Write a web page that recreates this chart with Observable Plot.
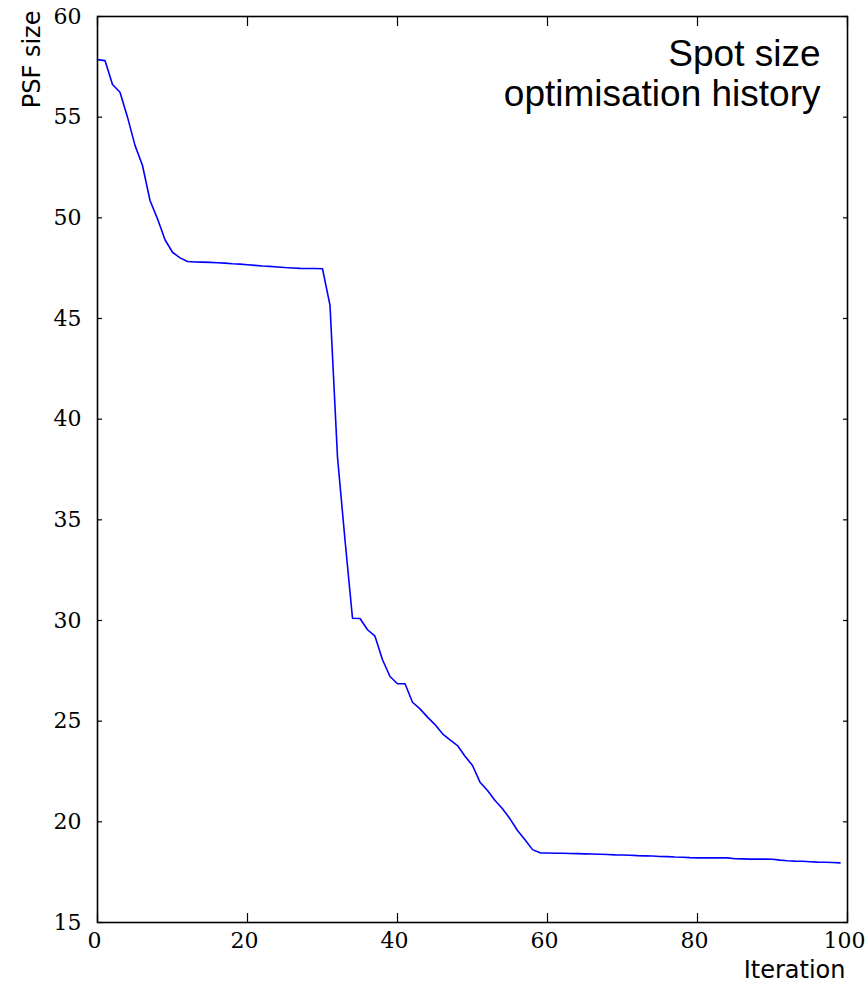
<!DOCTYPE html>
<html>
<head>
<meta charset="utf-8">
<script src="https://cdn.jsdelivr.net/npm/d3@7"></script>
<script src="https://cdn.jsdelivr.net/npm/@observablehq/plot@0.6"></script>
<style>
  html, body { margin: 0; padding: 0; background: #fff; }
  #chart svg { display: block; }
</style>
</head>
<body>
<div id="chart"></div>
<script>
// Iteration index 0..99 and PSF size
const iterations = d3.range(0, 100);
const psfSize = [
  57.86, 57.81, 56.62, 56.24, 55.0, 53.6, 52.6, 50.86, 49.95, 48.91,
  48.29, 48.01, 47.83, 47.81, 47.80, 47.79, 47.77, 47.75, 47.72, 47.70,
  47.67, 47.64, 47.61, 47.59, 47.56, 47.53, 47.51, 47.49, 47.48, 47.48,
  47.47, 45.65, 38.11, 34.0, 30.11, 30.10, 29.54, 29.22, 28.05, 27.22,
  26.86, 26.86, 25.94, 25.61, 25.2, 24.83, 24.37, 24.07, 23.79, 23.26,
  22.8, 21.97, 21.56, 21.06, 20.65, 20.15, 19.57, 19.11, 18.62, 18.46,
  18.45, 18.44, 18.44, 18.43, 18.42, 18.41, 18.40, 18.39, 18.38, 18.36,
  18.35, 18.34, 18.32, 18.31, 18.30, 18.28, 18.27, 18.25, 18.24, 18.22,
  18.21, 18.21, 18.21, 18.21, 18.21, 18.17, 18.16, 18.15, 18.15, 18.15,
  18.14, 18.10, 18.07, 18.05, 18.04, 18.02, 18.00, 17.99, 17.98, 17.96
];
const xTicks = [0, 20, 40, 60, 80, 100];
const yTicks = [15, 20, 25, 30, 35, 40, 45, 50, 55, 60];
const titleText = "Spot size\noptimisation history";
const xLabel = "Iteration";
const yLabel = "PSF size";

const data = iterations.map((it, i) => ({it, v: psfSize[i]}));
const tickFont = "DejaVu Serif, serif";

const chart = Plot.plot({
  width: 867,
  height: 984,
  marginLeft: 97,
  marginRight: 20,
  marginTop: 16,
  marginBottom: 62,
  style: {fontFamily: tickFont, fontSize: "22px", color: "#000", background: "#fff"},
  x: {domain: [0, 100]},
  y: {domain: [15, 60]},
  marks: [
    Plot.line(data, {x: "it", y: "v", stroke: "#0000ff", strokeWidth: 1.6}),
    Plot.frame({stroke: "#000", strokeWidth: 1.6}),
    // inward ticks on all four sides
    Plot.axisX(xTicks, {anchor: "bottom", tickSize: -9, tickFormat: () => "", label: null, strokeWidth: 1.2}),
    Plot.axisX(xTicks, {anchor: "top", tickSize: -9, tickFormat: () => "", label: null, strokeWidth: 1.2}),
    Plot.axisY(yTicks, {anchor: "left", tickSize: -5, tickFormat: () => "", label: null, strokeWidth: 1.2}),
    Plot.axisY(yTicks, {anchor: "right", tickSize: -5, tickFormat: () => "", label: null, strokeWidth: 1.2}),
    // tick labels
    Plot.axisX(xTicks, {anchor: "bottom", tickSize: 0, tickPadding: 10, dx: -3, label: null, fontSize: 22, fontFamily: tickFont}),
    Plot.axisY(yTicks, {anchor: "left", tickSize: 0, tickPadding: 16, label: null, fontSize: 22, fontFamily: tickFont}),
    // axis titles
    Plot.text([yLabel], {frameAnchor: "top-left", dx: -75, dy: -6, rotate: -90, textAnchor: "end",
      fontFamily: "DejaVu Sans, sans-serif", fontSize: 24, fill: "#000"}),
    Plot.text([xLabel], {frameAnchor: "bottom-right", dx: -2, dy: 55, textAnchor: "end",
      fontFamily: "DejaVu Sans, sans-serif", fontSize: 24, fill: "#000"}),
    // in-plot title
    Plot.text([titleText], {frameAnchor: "top-right", dx: -27, dy: 21, textAnchor: "end", lineAnchor: "top",
      lineHeight: 1.08, fontFamily: "Liberation Sans, Arial, sans-serif", fontSize: 37, fill: "#000"})
  ]
});
document.getElementById("chart").appendChild(chart);
</script>
</body>
</html>
